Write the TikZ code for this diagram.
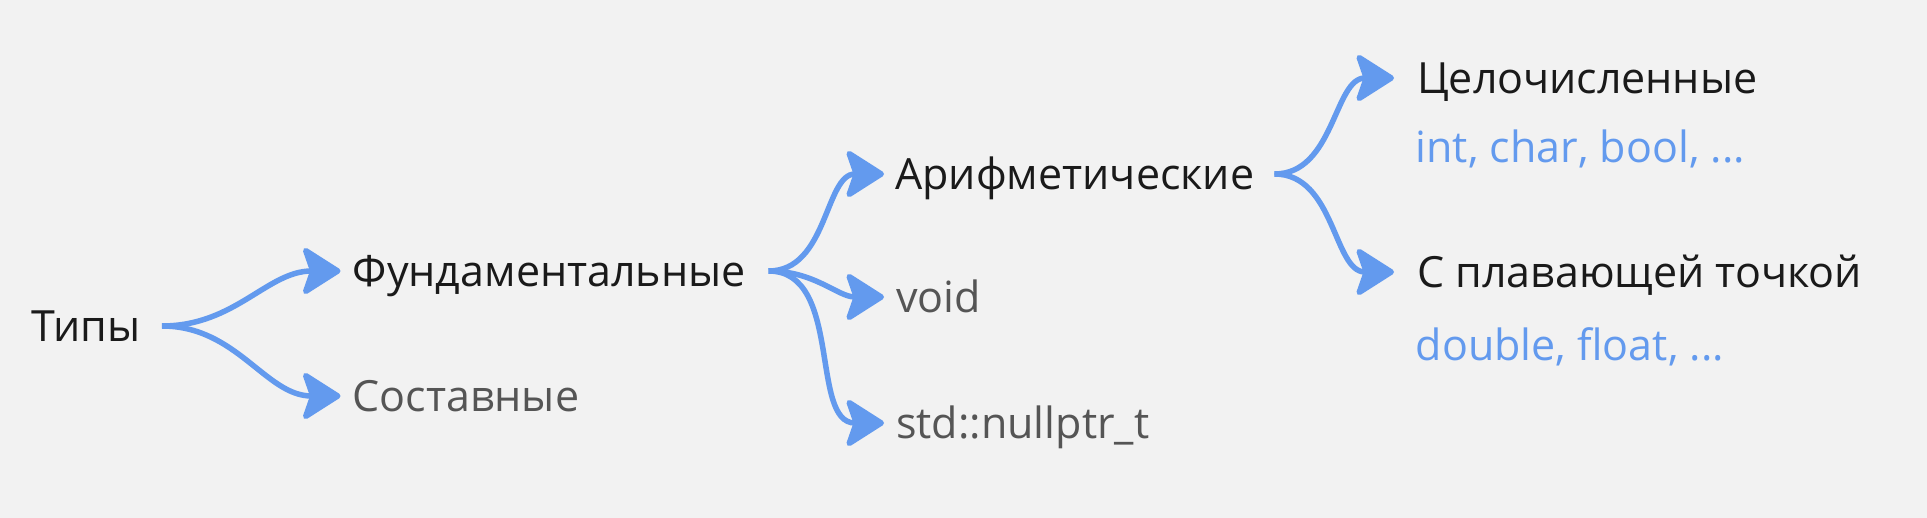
\documentclass[tikz,border=0pt]{standalone}
\usepackage{fontspec}
\setmainfont{Open Sans}
\usetikzlibrary{arrows.meta}
\definecolor{bg}{RGB}{242,242,242}
\definecolor{arr}{RGB}{99,154,238}
\definecolor{dark}{RGB}{26,26,26}
\definecolor{grey}{RGB}{85,85,85}
\tikzset{
  lbl/.style={font=\fontsize{43}{52}\selectfont, anchor=west, inner xsep=0pt, inner ysep=0pt, text height=30.7pt, text depth=0pt},
  sub/.style={font=\fontsize{43}{52}\selectfont, anchor=base west, inner sep=0pt, text=arr},
  conn/.style={draw=arr, line width=5.5pt, -{Stealth[length=42pt,width=53pt,inset=9pt,round]}},
}
\begin{document}
\begin{tikzpicture}[x=1pt,y=-1pt]
\fill[bg] (0,0) rectangle (1927,518);
\useasboundingbox (0,0) rectangle (1927,518);
\node[lbl, text=dark, anchor=east] (tipy) at (140.5,326) {Типы};
\node[lbl, text=dark] (fund) at (352.5,271) {Фундаментальные};
\node[lbl, text=grey] (sost) at (352.5,396) {Составные};
\node[lbl, text=dark] (arif) at (895,174) {Арифметические};
\node[lbl, text=grey] (void) at (896,297) {void};
\node[lbl, text=grey] (nullp) at (896,423) {std::nullptr\_t};
\node[lbl, text=dark] (cel) at (1417,78) {Целочисленные};
\node[sub] (intc) at (1415.5,163) {int, char, bool, ...};
\node[lbl, text=dark] (plav) at (1417,272) {С плавающей точкой};
\node[sub] (dbl) at (1415.5,360) {double, float, ...};
\draw[conn] ([xshift=21.5pt]tipy.east) to[out=0,in=180] ([xshift=-12pt]fund.west);
\draw[conn] ([xshift=21.5pt]tipy.east) to[out=0,in=180] ([xshift=-12pt]sost.west);
\draw[conn] ([xshift=22.5pt]fund.east) to[out=0,in=180] ([xshift=-11pt]arif.west);
\draw[conn] ([xshift=22.5pt]fund.east) to[out=0,in=180] ([xshift=-12pt]void.west);
\draw[conn] ([xshift=22.5pt]fund.east) to[out=0,in=180] ([xshift=-12pt]nullp.west);
\draw[conn] ([xshift=20pt]arif.east) to[out=0,in=180] ([xshift=-23pt]cel.west);
\draw[conn] ([xshift=20pt]arif.east) to[out=0,in=180] ([xshift=-23pt]plav.west);
\end{tikzpicture}
\end{document}
